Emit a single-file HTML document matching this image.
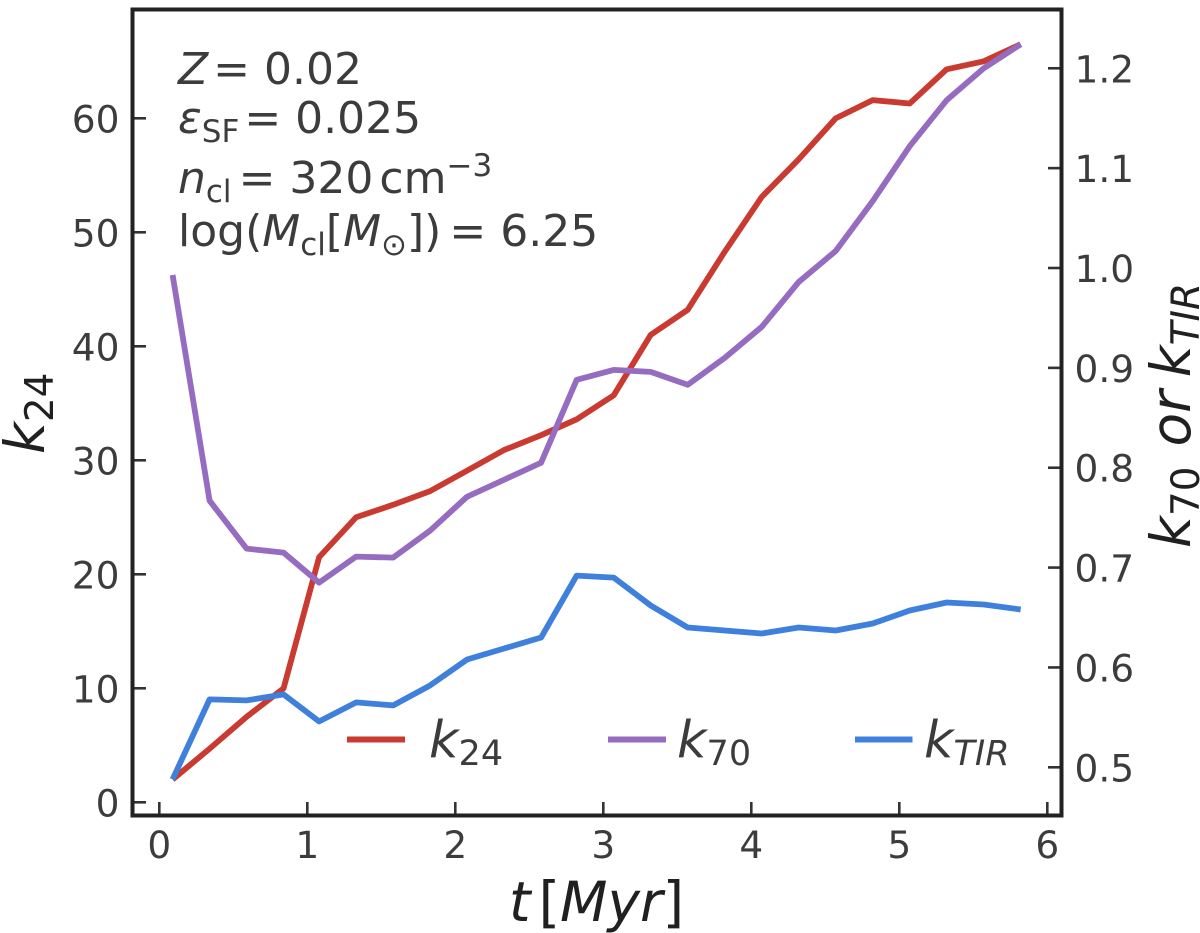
<!DOCTYPE html>
<html lang="en">
<head>
<meta charset="utf-8">
<title>k24, k70 and kTIR versus time</title>
<style>
html,body{margin:0;padding:0;background:#fff;}
svg{display:block;}
text{font-family:"DejaVu Sans","Liberation Sans",sans-serif;fill:#3c3c3c;}
.it{font-style:italic;}
.tick-label{font-size:37.5px;}
.note{font-size:44px;}
.legend-text{font-size:51px;}
.axis-title{font-size:55px;fill:#202020;}
</style>
</head>
<body>
<svg id="chart" xmlns="http://www.w3.org/2000/svg" width="1200" height="933" viewBox="0 0 1200 933">
  <g id="ticks"></g>
  <g id="series"></g>
  <rect x="132.5" y="9.5" width="929" height="806" fill="none" stroke="#222" stroke-width="4"/>

  <text class="note it" x="178" y="84">Z<tspan font-style="normal" dx="5">= 0.02</tspan></text>
  <text class="note" x="178" y="133"><tspan class="it">ε</tspan><tspan font-size="31" dy="9">SF</tspan><tspan dy="-9" dx="5">= 0.025</tspan></text>
  <text class="note" x="178" y="193"><tspan class="it">n</tspan><tspan font-size="31" dy="9">cl</tspan><tspan dy="-9" dx="7">= 320</tspan><tspan dx="6">cm</tspan><tspan font-size="31" dy="-17">−3</tspan></text>
  <text class="note" x="178" y="246">log(<tspan class="it">M</tspan><tspan font-size="31" dy="9">cl</tspan><tspan dy="-9">[</tspan><tspan class="it">M</tspan><tspan font-size="31" dy="9">⊙</tspan><tspan dy="-9">])</tspan><tspan dx="8">= 6.25</tspan></text>

  <g>
    <line x1="347" x2="405" y1="739.5" y2="739.5" stroke="#c93a30" stroke-width="6"/>
    <text class="legend-text" x="429" y="757"><tspan class="it">k</tspan><tspan font-size="35" dy="8">24</tspan></text>
    <line x1="608" x2="666" y1="739.5" y2="739.5" stroke="#966cc0" stroke-width="6"/>
    <text class="legend-text" x="677" y="757"><tspan class="it">k</tspan><tspan font-size="35" dy="8">70</tspan></text>
    <line x1="855" x2="912.5" y1="739.5" y2="739.5" stroke="#3f80dc" stroke-width="6"/>
    <text class="legend-text" x="924" y="757"><tspan class="it">k</tspan><tspan class="it" font-size="35" dy="8">TIR</tspan></text>
  </g>

  <text class="axis-title it" x="509" y="921">t<tspan font-style="normal" dx="8">[</tspan>Myr<tspan font-style="normal">]</tspan></text>
  <text class="axis-title" transform="translate(44,454) rotate(-90)"><tspan class="it">k</tspan><tspan font-size="39" dy="9">24</tspan></text>
  <text class="axis-title" transform="translate(1190,548) rotate(-90)"><tspan class="it">k</tspan><tspan font-size="39" dy="9">70</tspan><tspan class="it" dy="-9" dx="20">or</tspan><tspan class="it" dx="13">k</tspan><tspan class="it" font-size="39" dy="9">TIR</tspan></text>
</svg>
<script>
var times = [0.09,0.34,0.59,0.84,1.08,1.33,1.58,1.83,2.08,2.33,2.58,2.82,3.07,3.32,3.57,3.82,4.07,4.32,4.57,4.82,5.07,5.32,5.57,5.82];
var k24Values = [2.0,4.7,7.5,10.0,21.5,25.0,26.1,27.3,29.1,30.9,32.2,33.6,35.7,41.0,43.2,48.3,53.1,56.4,60.0,61.6,61.3,64.3,65.0,66.5];
var k70Values = [0.993,0.767,0.719,0.715,0.685,0.711,0.710,0.737,0.771,0.788,0.805,0.888,0.898,0.896,0.883,0.910,0.941,0.986,1.017,1.067,1.122,1.168,1.200,1.224];
var kTirValues = [0.488,0.568,0.567,0.573,0.546,0.565,0.562,0.582,0.608,0.619,0.630,0.692,0.690,0.662,0.640,0.637,0.634,0.640,0.637,0.644,0.657,0.665,0.663,0.658];
var xTicks = [0,1,2,3,4,5,6];
var leftTicks = [0,10,20,30,40,50,60];
var rightTicks = ["0.5","0.6","0.7","0.8","0.9","1.0","1.1","1.2"];

var SVG_NS = 'http://www.w3.org/2000/svg';
function xScale(v){ return 159.3 + v * 148; }
function yLeft(v){ return 802.3 - v * 11.4; }
function yRight(v){ return 767.3 - (v - 0.5) * 998.6; }

var tickGroup = document.getElementById('ticks');
var seriesGroup = document.getElementById('series');

function tickLine(x1, y1, x2, y2, name){
  var l = document.createElementNS(SVG_NS, 'line');
  l.setAttribute('x1', x1);
  l.setAttribute('y1', y1);
  l.setAttribute('x2', x2);
  l.setAttribute('y2', y2);
  l.setAttribute('stroke', '#333');
  l.setAttribute('stroke-width', '2.6');
  
  
  tickGroup.appendChild(l);
}
function tickText(x, y, anchor, str, name){
  var t = document.createElementNS(SVG_NS, 'text');
  t.setAttribute('x', x);
  t.setAttribute('y', y);
  t.setAttribute('text-anchor', anchor);
  t.setAttribute('class', 'tick-label');
  t.textContent = str;
  
  
  tickGroup.appendChild(t);
}
xTicks.forEach(function(v){
  var x = xScale(v);
  tickLine(x, 802, x, 815, 'x-tick-mark');
  tickText(x, 858, 'middle', String(v), 'x-tick-label');
});
leftTicks.forEach(function(v){
  var y = yLeft(v);
  tickLine(133, y, 146, y, 'left-y-tick-mark');
  tickText(119.5, y + 14, 'end', String(v), 'left-y-tick-label');
});
rightTicks.forEach(function(s){
  var y = yRight(parseFloat(s));
  tickLine(1048, y, 1061, y, 'right-y-tick-mark');
  tickText(1074.5, y + 14, 'start', s, 'right-y-tick-label');
});

function drawSeries(values, yFn, color, name){
  var pts = values.map(function(v, i){
    return xScale(times[i]).toFixed(1) + ',' + yFn(v).toFixed(1);
  }).join(' ');
  var p = document.createElementNS(SVG_NS, 'polyline');
  p.setAttribute('points', pts);
  p.setAttribute('fill', 'none');
  p.setAttribute('stroke', color);
  p.setAttribute('stroke-width', '5.8');
  p.setAttribute('stroke-linejoin', 'round');
  
  
  seriesGroup.appendChild(p);
}
drawSeries(k24Values, yLeft, '#c93a30', 'series-k24');
drawSeries(k70Values, yRight, '#966cc0', 'series-k70');
drawSeries(kTirValues, yRight, '#3f80dc', 'series-ktir');
</script>
</body>
</html>
